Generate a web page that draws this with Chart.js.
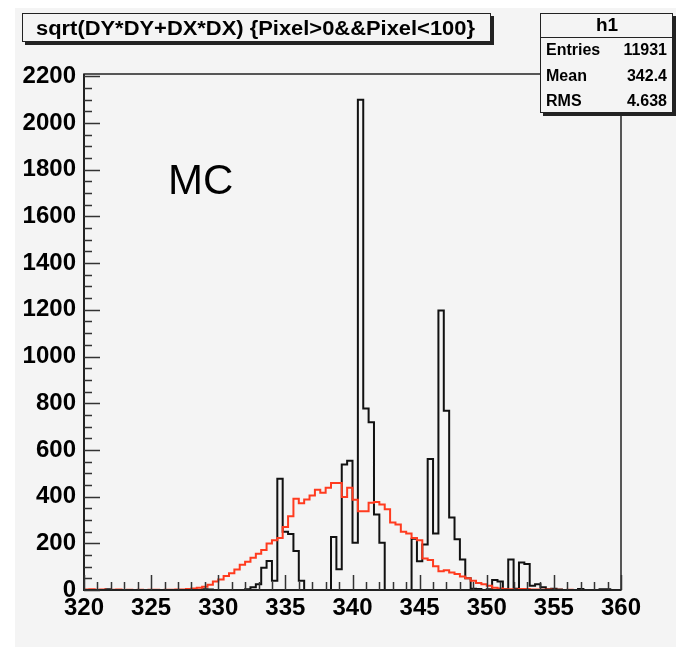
<!DOCTYPE html>
<html>
<head>
<meta charset="utf-8">
<script src="https://cdn.jsdelivr.net/npm/chart.js@4.4.0/dist/chart.umd.min.js"></script>
<style>
  html, body { margin: 0; padding: 0; background: #fff; }
  canvas { display: block; }
</style>
</head>
<body>
<canvas id="histCanvas" width="676" height="651"></canvas>
<script>
// binning of both histograms: 100 bins from 320 to 360
const xMin = 320;
const xMax = 360;
const binWidth = 0.4;

// black histogram (MC), entries per bin
const mcCounts = [
  0, 0, 0, 0, 3, 0, 0, 0, 0, 0,
  0, 0, 0, 0, 0, 0, 0, 0, 0, 0,
  0, 0, 3, 2, 0, 0, 0, 0, 0, 0,
  3, 12, 25, 95, 124, 40, 476, 250, 240, 167,
  40, 0, 0, 0, 0, 0, 227, 89, 537, 554,
  202, 2100, 777, 718, 323, 202, 0, 0, 0, 0,
  0, 220, 123, 195, 561, 242, 1197, 768, 310, 217,
  131, 50, 5, 4, 0, 3, 43, 36, 3, 131,
  5, 118, 111, 18, 25, 12, 3, 5, 2, 0,
  0, 0, 4, 0, 0, 0, 3, 3, 0, 0
];

// red histogram, entries per bin
const redCounts = [
  2, 3, 1, 2, 0, 1, 2, 0, 1, 0,
  1, 0, 1, 1, 0, 1, 1, 2, 2, 4,
  6, 10, 14, 22, 36, 45, 60, 72, 88, 108,
  121, 138, 155, 171, 199, 213, 223, 270, 316, 391,
  372, 388, 405, 429, 417, 438, 458, 458, 398, 438,
  387, 337, 337, 374, 377, 366, 346, 289, 280, 249,
  242, 223, 213, 135, 128, 102, 80, 85, 75, 68,
  58, 50, 40, 30, 25, 18, 10, 6, 3, 3,
  2, 4, 4, 2, 2, 1, 2, 1, 1, 0,
  1, 0, 0, 0, 0, 0, 0, 0, 0, 0
];

const xTicks = [320, 325, 330, 335, 340, 345, 350, 355, 360];
const yTicks = [0, 200, 400, 600, 800, 1000, 1200, 1400, 1600, 1800, 2000, 2200];

const titleText = 'sqrt(DY*DY+DX*DX) {Pixel>0&&Pixel<100}';
const statsTitle = 'h1';
const statsNames = ['Entries', 'Mean', 'RMS'];
const statsValues = ['11931', '342.4', '4.638'];
const labelText = 'MC';

const FONT = "'Liberation Sans', Arial, sans-serif";

function histPoints(counts) {
  const pts = counts.map((c, i) => ({ x: xMin + i * binWidth, y: c }));
  pts.push({ x: xMax, y: counts[counts.length - 1] });
  return pts;
}

function fitText(ctx, text, x, y, width) {
  const w = ctx.measureText(text).width;
  ctx.save();
  ctx.translate(x, y);
  ctx.scale(width / w, 1);
  ctx.fillText(text, 0, 0);
  ctx.restore();
}

// ROOT style pad: grey canvas, frame, inward ticks, title and stats boxes
const rootPad = {
  id: 'rootPad',
  beforeDraw(chart) {
    const ctx = chart.ctx;
    ctx.save();
    ctx.fillStyle = '#fff';
    ctx.fillRect(0, 0, chart.width, chart.height);
    ctx.fillStyle = '#f4f4f4';
    ctx.fillRect(15, 8, 661, 639);
    ctx.restore();
  },
  afterDraw(chart) {
    const ctx = chart.ctx;
    const a = chart.chartArea;
    const xs = chart.scales.x;
    const ys = chart.scales.y;
    ctx.save();

    // frame
    ctx.strokeStyle = '#222';
    ctx.lineWidth = 1.5;
    ctx.strokeRect(a.left, a.top, a.right - a.left, a.bottom - a.top);
    ctx.lineWidth = 2;
    ctx.beginPath();
    ctx.moveTo(a.left, a.top);
    ctx.lineTo(a.left, a.bottom);
    ctx.lineTo(a.right, a.bottom);
    ctx.stroke();

    // ticks
    ctx.lineWidth = 1.5;
    ctx.strokeStyle = '#333';
    ctx.beginPath();
    for (let v = xMin; v <= xMax; v += 1) {
      const px = Math.round(xs.getPixelForValue(v)) + 0.5;
      const len = (v % 5 === 0) ? 15 : 8;
      ctx.moveTo(px, a.bottom);
      ctx.lineTo(px, a.bottom - len);
    }
    for (let v = 0; v <= 2200; v += 50) {
      const py = Math.round(ys.getPixelForValue(v)) + 0.5;
      const len = (v % 200 === 0) ? 16 : 8;
      ctx.moveTo(a.left, py);
      ctx.lineTo(a.left + len, py);
    }
    ctx.stroke();

    // title box
    ctx.fillStyle = '#222';
    ctx.fillRect(25, 42, 469, 3);
    ctx.fillRect(491, 16, 3, 29);
    ctx.fillStyle = '#f4f4f4';
    ctx.fillRect(22, 13, 469, 29);
    ctx.strokeStyle = '#222';
    ctx.lineWidth = 1;
    ctx.strokeRect(22.5, 13.5, 468, 28);
    ctx.fillStyle = '#000';
    ctx.font = 'bold 20px ' + FONT;
    ctx.textBaseline = 'middle';
    ctx.textAlign = 'left';
    fitText(ctx, titleText, 36, 29, 439);

    // stats box
    ctx.fillStyle = '#222';
    ctx.fillRect(543, 113, 133, 3);
    ctx.fillRect(673, 16, 3, 100);
    ctx.fillStyle = '#f4f4f4';
    ctx.fillRect(540, 13, 133, 100);
    ctx.strokeStyle = '#222';
    ctx.strokeRect(540.5, 13.5, 132, 99);
    ctx.beginPath();
    ctx.moveTo(540, 37.5);
    ctx.lineTo(673, 37.5);
    ctx.stroke();
    ctx.fillStyle = '#000';
    ctx.font = 'bold 19px ' + FONT;
    ctx.textAlign = 'center';
    ctx.fillText(statsTitle, 607, 26);
    ctx.font = 'bold 16px ' + FONT;
    const rowsY = [51, 77, 102];
    statsNames.forEach((name, i) => {
      ctx.textAlign = 'left';
      ctx.fillText(name, 546, rowsY[i]);
      ctx.textAlign = 'right';
      ctx.fillText(statsValues[i], 667, rowsY[i]);
    });

    // MC label
    ctx.font = '42px ' + FONT;
    ctx.textAlign = 'left';
    ctx.textBaseline = 'alphabetic';
    ctx.fillText(labelText, 168, 194);
    ctx.restore();
  }
};

const tickFont = { family: FONT, size: 24, weight: 'bold' };

new Chart(document.getElementById('histCanvas'), {
  type: 'line',
  data: {
    datasets: [
      {
        label: 'red',
        data: histPoints(redCounts),
        borderColor: '#ff3b1f',
        borderWidth: 2,
        stepped: true,
        pointRadius: 0,
        fill: false,
        order: 0
      },
      {
        label: 'MC',
        data: histPoints(mcCounts),
        borderColor: '#111',
        borderWidth: 2,
        stepped: true,
        pointRadius: 0,
        fill: false,
        order: 1
      }
    ]
  },
  options: {
    responsive: false,
    animation: false,
    devicePixelRatio: 1,
    layout: { padding: { left: 0, top: 74, right: 55, bottom: 0 } },
    plugins: {
      legend: { display: false },
      tooltip: { enabled: false },
      title: { display: false }
    },
    scales: {
      x: {
        type: 'linear',
        min: xMin,
        max: xMax,
        grid: { display: false },
        border: { display: false },
        afterBuildTicks: s => { s.ticks = xTicks.map(v => ({ value: v })); },
        afterFit: s => { s.height = 61; },
        ticks: { font: tickFont, color: '#000', padding: -4, maxRotation: 0, autoSkip: false,
                 callback: v => String(v) }
      },
      y: {
        type: 'linear',
        min: 0,
        max: 2210,
        grid: { display: false },
        border: { display: false },
        afterBuildTicks: s => { s.ticks = yTicks.map(v => ({ value: v })); },
        afterFit: s => { s.width = 84; },
        ticks: { font: tickFont, color: '#000', padding: 0, autoSkip: false,
                 callback: v => String(v) }
      }
    }
  },
  plugins: [rootPad]
});
</script>
</body>
</html>
